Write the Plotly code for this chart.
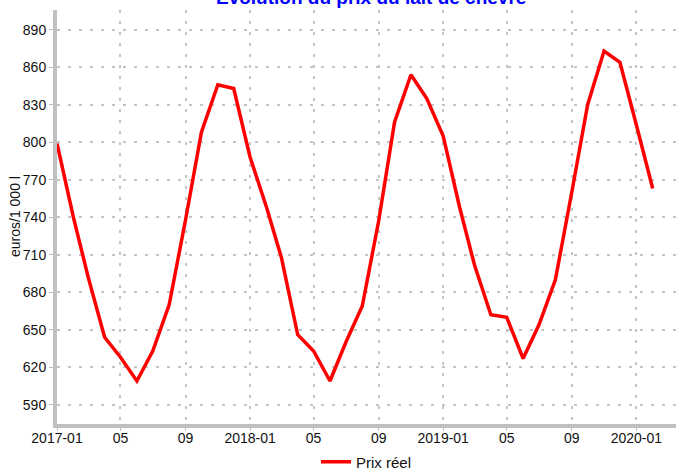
import plotly.graph_objects as go

months = [
    "2017-01", "2017-02", "2017-03", "2017-04", "2017-05", "2017-06",
    "2017-07", "2017-08", "2017-09", "2017-10", "2017-11", "2017-12",
    "2018-01", "2018-02", "2018-03", "2018-04", "2018-05", "2018-06",
    "2018-07", "2018-08", "2018-09", "2018-10", "2018-11", "2018-12",
    "2019-01", "2019-02", "2019-03", "2019-04", "2019-05", "2019-06",
    "2019-07", "2019-08", "2019-09", "2019-10", "2019-11", "2019-12",
    "2020-01", "2020-02",
]
prix_reel = [
    799, 740, 692, 644, 628, 609, 633, 670, 738, 808, 846, 843,
    788, 748, 708, 646, 633, 609, 640, 669, 737, 816, 854, 835,
    805, 748, 702, 662, 660, 627, 654, 690, 760, 830, 873, 864,
    814, 763,
]
x_tickvals = ["2017-01", "2017-05", "2017-09", "2018-01", "2018-05", "2018-09",
              "2019-01", "2019-05", "2019-09", "2020-01"]
x_ticktext = ["2017-01", "05", "09", "2018-01", "05", "09", "2019-01", "05", "09", "2020-01"]
y_tickvals = [590, 620, 650, 680, 710, 740, 770, 800, 830, 860, 890]

title_text = "Evolution du prix du lait de chèvre"
series_name = "Prix réel"
y_title = "euros/1 000 l"

fig = go.Figure()
fig.add_trace(go.Scatter(
    x=[m + "-01" for m in months], y=prix_reel, mode="lines", name=series_name,
    line=dict(color="#ff0000", width=3.5),
))

font_family = "Liberation Sans, Arial, sans-serif"
grid_col = "#c4c4c4"
fig.update_layout(
    width=676, height=471,
    margin=dict(l=57, r=0, t=10, b=47),
    paper_bgcolor="white", plot_bgcolor="white",
    font=dict(family=font_family, size=14, color="#111111"),
    showlegend=True,
    legend=dict(orientation="h", x=0.5, xanchor="center",
                yref="container", y=0.019, yanchor="middle",
                font=dict(size=15, color="#111111"), bgcolor="rgba(0,0,0,0)"),
    xaxis=dict(
        type="date", automargin=False,
        range=["2017-01-01", "2020-03-16"],
        tickvals=[v + "-01" for v in x_tickvals], ticktext=x_ticktext,
        showgrid=True, gridcolor=grid_col, gridwidth=2, griddash="3px,8px",
        showline=True, linecolor="#c0c0c0", linewidth=4,
        ticks="outside", ticklen=3, tickcolor="#c0c0c0", tickwidth=1,
        ticklabelstandoff=-5,
        zeroline=False, tickfont=dict(size=14),
    ),
    yaxis=dict(
        automargin=False,
        range=[574.6, 905.8],
        tickvals=y_tickvals,
        showgrid=True, gridcolor=grid_col, gridwidth=2, griddash="3px,8px",
        showline=True, linecolor="#c0c0c0", linewidth=4,
        ticks="outside", ticklen=4, tickcolor="#c0c0c0", tickwidth=1,
        zeroline=False, tickfont=dict(size=14),
    ),
    annotations=[
        dict(text="<b>" + title_text + "</b>", xref="paper", yref="paper",
             x=0.507, y=1.0, xanchor="center", yanchor="bottom", yshift=0,
             showarrow=False, font=dict(family=font_family, size=19, color="#0000ff")),
        dict(text=y_title, xref="paper", yref="paper", x=0, y=0.5,
             xanchor="center", yanchor="middle", xshift=-42, textangle=-90,
             showarrow=False, font=dict(family=font_family, size=14, color="#111111")),
    ],
)

fig.write_html("out.html", config={"displayModeBar": False},
               post_script="document.body.style.margin='0';")
